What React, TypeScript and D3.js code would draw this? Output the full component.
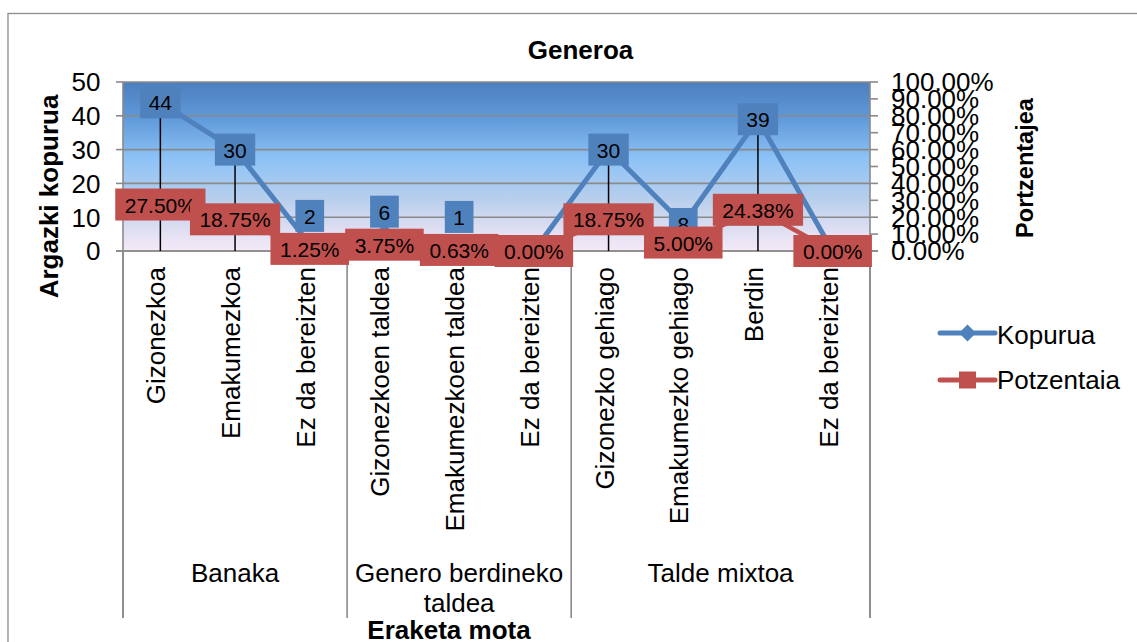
import React, { useMemo } from "react";
import * as d3 from "d3";

// ---------- data ----------
const categories = [
  "Gizonezkoa",
  "Emakumezkoa",
  "Ez da bereizten",
  "Gizonezkoen taldea",
  "Emakumezkoen taldea",
  "Ez da bereizten",
  "Gizonezko gehiago",
  "Emakumezko gehiago",
  "Berdin",
  "Ez da bereizten",
];
const groups = ["Banaka", "Genero berdineko taldea", "Talde mixtoa"];
const groupSizes = [3, 3, 4];
const kopurua = [44, 30, 2, 6, 1, 0, 30, 8, 39, 0];
const potzentaia = [0.275, 0.1875, 0.0125, 0.0375, 0.0063, 0, 0.1875, 0.05, 0.2438, 0];
const kopuruaLabelPlacement = ["center", "center", "above", "above", "above", "center", "center", "center", "center", "center"];
const leftTicks = [0, 10, 20, 30, 40, 50];
const rightTicks = [0, 0.1, 0.2, 0.3, 0.4, 0.5, 0.6, 0.7, 0.8, 0.9, 1.0];
const seriesNames = ["Kopurua", "Potzentaia"];
const chartTitle = "Generoa";
const xTitle = "Eraketa mota";
const yTitle = "Argazki kopurua";
const y2Title = "Portzentajea";

// ---------- layout / style ----------
const W = 1137;
const H = 642;
const P = { left: 123, right: 870, top: 82, bottom: 251 };
const FONT = "'Liberation Sans', Arial, sans-serif";
const BLUE = "#4F81BD";
const RED = "#C0504D";
const GRID = "#8a8a8a";

let _ctx: CanvasRenderingContext2D | null = null;
function textWidth(s: string, size: number, weight = "normal") {
  if (!_ctx) _ctx = document.createElement("canvas").getContext("2d");
  if (!_ctx) return s.length * size * 0.55;
  _ctx.font = `${weight} ${size}px "Liberation Sans", Arial, sans-serif`;
  return _ctx.measureText(s).width;
}

function wrap(s: string, size: number, maxW: number) {
  const words = s.split(" ");
  const lines: string[] = [];
  let cur = "";
  for (const w of words) {
    const t = cur ? cur + " " + w : w;
    if (cur && textWidth(t, size) > maxW) {
      lines.push(cur);
      cur = w;
    } else cur = t;
  }
  if (cur) lines.push(cur);
  return lines;
}

export default function App() {
  const x = useMemo(
    () => d3.scaleBand<number>().domain(d3.range(categories.length)).range([P.left, P.right]).padding(0),
    []
  );
  const yL = useMemo(() => d3.scaleLinear().domain([0, 50]).range([P.bottom, P.top]), []);
  const yR = useMemo(() => d3.scaleLinear().domain([0, 1]).range([P.bottom, P.top]), []);
  const cx = (i: number) => (x(i) as number) + x.bandwidth() / 2;

  const blueLine = d3.line<number>().x((_, i) => cx(i)).y((v) => yL(v))(kopurua) || "";
  const redLine = d3.line<number>().x((_, i) => cx(i)).y((v) => yR(v))(potzentaia) || "";

  const pctFmt = (v: number) => (v * 100).toFixed(2) + "%";

  const LABEL_FS = 21;
  const BOX_H = 32;
  const PAD = 8.5;

  const redBoxes = potzentaia.map((v, i) => {
    const t = pctFmt(v);
    const w = textWidth(t, LABEL_FS) + PAD * 2 + 2;
    const c = yR(v);
    return { t, x: cx(i) - w / 2, y: c - BOX_H / 2, w };
  });
  const blueBoxes = kopurua.map((v, i) => {
    const t = String(v);
    const w = textWidth(t, LABEL_FS) + PAD * 2;
    let top = yL(v) - BOX_H / 2;
    if (kopuruaLabelPlacement[i] === "above") top = redBoxes[i].y - 1 - BOX_H;
    return { t, x: cx(i) - w / 2, y: top, w };
  });

  // group boundaries
  const bounds: number[] = [0];
  groupSizes.forEach((s) => bounds.push(bounds[bounds.length - 1] + s));
  const edge = (k: number) => (k >= categories.length ? P.right : (x(k) as number));

  const SEP_BOTTOM = 618;

  return (
    <svg
      width={W}
      height={H}
      style={{ position: "absolute", left: 0, top: 0, display: "block", background: "#fff" }}
      fontFamily={FONT}
    >
      <defs>
        <linearGradient id="plotBg" x1="0" y1="0" x2="0" y2="1">
          <stop offset="0" stopColor="#4C7FBE" />
          <stop offset="0.2" stopColor="#5E97D8" />
          <stop offset="0.45" stopColor="#8CC2F6" />
          <stop offset="0.7" stopColor="#B9CFEC" />
          <stop offset="0.86" stopColor="#DCDDF1" />
          <stop offset="1" stopColor="#F5EAF8" />
        </linearGradient>
      </defs>

      {/* outer chart border */}
      <rect x={8} y={13.5} width={1200} height={700} fill="#fff" stroke="#8c8c8c" strokeWidth={1.3} />

      {/* plot area */}
      <rect x={P.left} y={P.top} width={P.right - P.left} height={P.bottom - P.top} fill="url(#plotBg)" />

      {/* gridlines */}
      {leftTicks.map((t) => (
        <line key={"g" + t} x1={P.left} x2={P.right} y1={yL(t)} y2={yL(t)} stroke={GRID} strokeWidth={1.6} />
      ))}

      {/* left axis */}
      <line x1={P.left} x2={P.left} y1={P.top} y2={SEP_BOTTOM} stroke={GRID} strokeWidth={1.6} />
      {leftTicks.map((t) => (
        <line key={"lt" + t} x1={P.left - 7} x2={P.left} y1={yL(t)} y2={yL(t)} stroke={GRID} strokeWidth={1.6} />
      ))}
      {leftTicks.map((t) => (
        <text
          key={"ll" + t}
          x={100.5}
          y={yL(t)}
          dy="0.36em"
          textAnchor="end"
          fontSize={26}
          fill="#000"
        >
          {t}
        </text>
      ))}

      {/* right axis */}
      <line x1={P.right} x2={P.right} y1={P.top} y2={SEP_BOTTOM} stroke={GRID} strokeWidth={1.6} />
      {rightTicks.map((t) => (
        <line key={"rt" + t} x1={P.right} x2={P.right + 8} y1={yR(t)} y2={yR(t)} stroke={GRID} strokeWidth={1.6} />
      ))}
      {rightTicks.map((t) => (
        <text key={"rl" + t} x={891} y={yR(t)} dy="0.36em" textAnchor="start" fontSize={26} fill="#000">
          {pctFmt(t)}
        </text>
      ))}

      {/* x axis line and group separators */}
      <line x1={P.left - 7} x2={P.right + 8} y1={P.bottom} y2={P.bottom} stroke={GRID} strokeWidth={1.6} />
      {bounds.map((b, k) => (
        <line key={"sep" + k} x1={edge(b)} x2={edge(b)} y1={P.bottom} y2={SEP_BOTTOM} stroke={GRID} strokeWidth={1.6} />
      ))}

      {/* drop lines */}
      {kopurua.map((v, i) => (
        <line key={"drop" + i} x1={cx(i)} x2={cx(i)} y1={yL(v)} y2={P.bottom} stroke="#000" strokeWidth={1.5} />
      ))}

      {/* series lines */}
      <path d={blueLine} fill="none" stroke={BLUE} strokeWidth={5} strokeLinejoin="round" />
      <path d={redLine} fill="none" stroke={RED} strokeWidth={4.5} strokeLinejoin="round" />
      {kopurua.map((v, i) => {
        const px = cx(i), py = yL(v), r = 7;
        return <path key={"dm" + i} d={`M${px},${py - r}L${px + r},${py}L${px},${py + r}L${px - r},${py}Z`} fill={BLUE} />;
      })}
      {potzentaia.map((v, i) => (
        <rect key={"sq" + i} x={cx(i) - 6} y={yR(v) - 6} width={12} height={12} fill={RED} />
      ))}

      {/* data labels */}
      {blueBoxes.map((b, i) => (
        <g key={"bl" + i}>
          <rect x={b.x} y={b.y} width={b.w} height={BOX_H} fill={BLUE} />
          <text x={b.x + b.w / 2} y={b.y + BOX_H / 2 + 8} textAnchor="middle" fontSize={LABEL_FS} fill="#000">
            {b.t}
          </text>
        </g>
      ))}
      {redBoxes.map((b, i) => (
        <g key={"rl2" + i}>
          <rect x={b.x} y={b.y} width={b.w} height={BOX_H} fill={RED} />
          <text x={b.x + b.w / 2} y={b.y + BOX_H / 2 + 8} textAnchor="middle" fontSize={LABEL_FS} fill="#000">
            {b.t}
          </text>
        </g>
      ))}

      {/* category labels (rotated) */}
      {categories.map((c, i) => (
        <text
          key={"cat" + i}
          transform={`translate(${cx(i) + 5},267) rotate(-90)`}
          textAnchor="end"
          fontSize={26}
          fill="#000"
        >
          {c}
        </text>
      ))}

      {/* group labels */}
      {groups.map((g, k) => {
        const x0 = edge(bounds[k]);
        const x1 = edge(bounds[k + 1]);
        const lines = wrap(g, 26, x1 - x0 - 6);
        return (
          <text key={"grp" + k} x={(x0 + x1) / 2} y={582} textAnchor="middle" fontSize={26} fill="#000">
            {lines.map((l, j) => (
              <tspan key={j} x={(x0 + x1) / 2} dy={j === 0 ? 0 : 30}>
                {l}
              </tspan>
            ))}
          </text>
        );
      })}

      {/* titles */}
      <text x={580.5} y={59} textAnchor="middle" fontSize={26} fontWeight="bold" fill="#000">
        {chartTitle}
      </text>
      <text x={449} y={638.5} textAnchor="middle" fontSize={26} fontWeight="bold" fill="#000">
        {xTitle}
      </text>
      <text transform="translate(58,196.5) rotate(-90)" textAnchor="middle" fontSize={26} fontWeight="bold" fill="#000">
        {yTitle}
      </text>
      <text transform="translate(1033,168) rotate(-90)" textAnchor="middle" fontSize={23.5} fontWeight="bold" fill="#000">
        {y2Title}
      </text>

      {/* legend */}
      <g>
        <line x1={940} x2={995} y1={333} y2={333} stroke={BLUE} strokeWidth={5} strokeLinecap="round" />
        <path d="M967.5,324.5L976,333L967.5,341.5L959,333Z" fill={BLUE} />
        <text x={997} y={344} fontSize={26} fill="#000">
          {seriesNames[0]}
        </text>
        <line x1={940} x2={995} y1={380} y2={380} stroke={RED} strokeWidth={5} strokeLinecap="round" />
        <rect x={959} y={371.5} width={17} height={17} fill={RED} />
        <text x={997} y={389} fontSize={26} fill="#000">
          {seriesNames[1]}
        </text>
      </g>
    </svg>
  );
}
